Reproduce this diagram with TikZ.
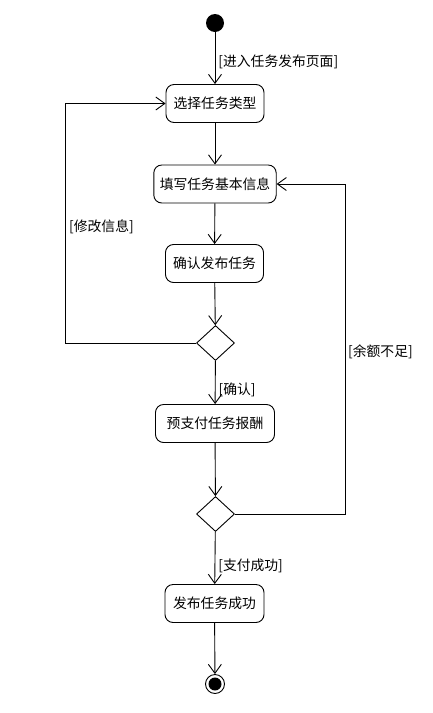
\documentclass[tikz,border=0pt]{standalone}
\usepackage{fontspec}
\newfontfamily\cjk{Noto Sans CJK SC}
\usetikzlibrary{arrows.meta,shapes.geometric}
\begin{document}
\begin{tikzpicture}[x=1pt,y=-1pt,
  every node/.style={font=\cjk\fontsize{13.8}{16}\selectfont},
  act/.style={draw,rounded corners=8pt,line width=0.9pt,minimum height=38pt,inner xsep=6pt},
  dec/.style={draw,diamond,line width=0.9pt,minimum width=38pt,minimum height=35pt,inner sep=0pt,aspect=1.05},
  flow/.style={line width=0.9pt,-{Straight Barb[length=9pt,width=13pt,line width=0.9pt]}},
  lbl/.style={inner sep=1pt}]
\useasboundingbox (0,0) rectangle (433,713);
\node[circle,fill=black,minimum size=18pt,inner sep=0pt] (start) at (215,23) {};
\node[act,minimum width=98pt] (a1) at (215,103.5) {选择任务类型};
\node[act,minimum width=118pt] (a2) at (215,184) {填写任务基本信息};
\node[act,minimum width=98pt] (a3) at (214.5,263.5) {确认发布任务};
\node[dec] (d1) at (215.5,343) {};
\node[act,minimum width=119pt] (a4) at (215,423.5) {预支付任务报酬};
\node[dec] (d2) at (215.5,514) {};
\node[act,minimum width=99pt] (a5) at (214.5,603.5) {发布任务成功};
\node[circle,draw,line width=0.9pt,minimum size=19pt,inner sep=0pt] (end) at (215,684) {};
\node[circle,fill=black,minimum size=13pt,inner sep=0pt] (endin) at (215,684) {};
\coordinate (l1) at (65,343);
\coordinate (l2) at (65,103.5);
\coordinate (r1) at (345,514);
\coordinate (r2) at (345,184);
\draw[flow] (start) -- (a1) node[lbl,pos=0.57,anchor=west,xshift=2pt] {[进入任务发布页面]};
\draw[flow] (a1) -- (a2);
\draw[flow] (a2) -- (a3);
\draw[flow] (a3) -- (d1);
\draw[flow] (d1) -- (a4) node[lbl,pos=0.66,anchor=west,xshift=2pt] {[确认]};
\draw[flow] (a4) -- (d2);
\draw[flow] (d2) -- (a5) node[lbl,pos=0.65,anchor=west,xshift=2pt] {[支付成功]};
\draw[flow] (a5) -- (end);
\draw[flow] (d1.west) -- (l1) -- (l2) -- (a1.west);
\draw[flow] (d2.east) -- (r1) -- (r2) -- (a2.east);
\node[lbl,anchor=west] (m1) at (68,227) {[修改信息]};
\node[lbl,anchor=west] (m2) at (347,352) {[余额不足]};
\end{tikzpicture}
\end{document}
